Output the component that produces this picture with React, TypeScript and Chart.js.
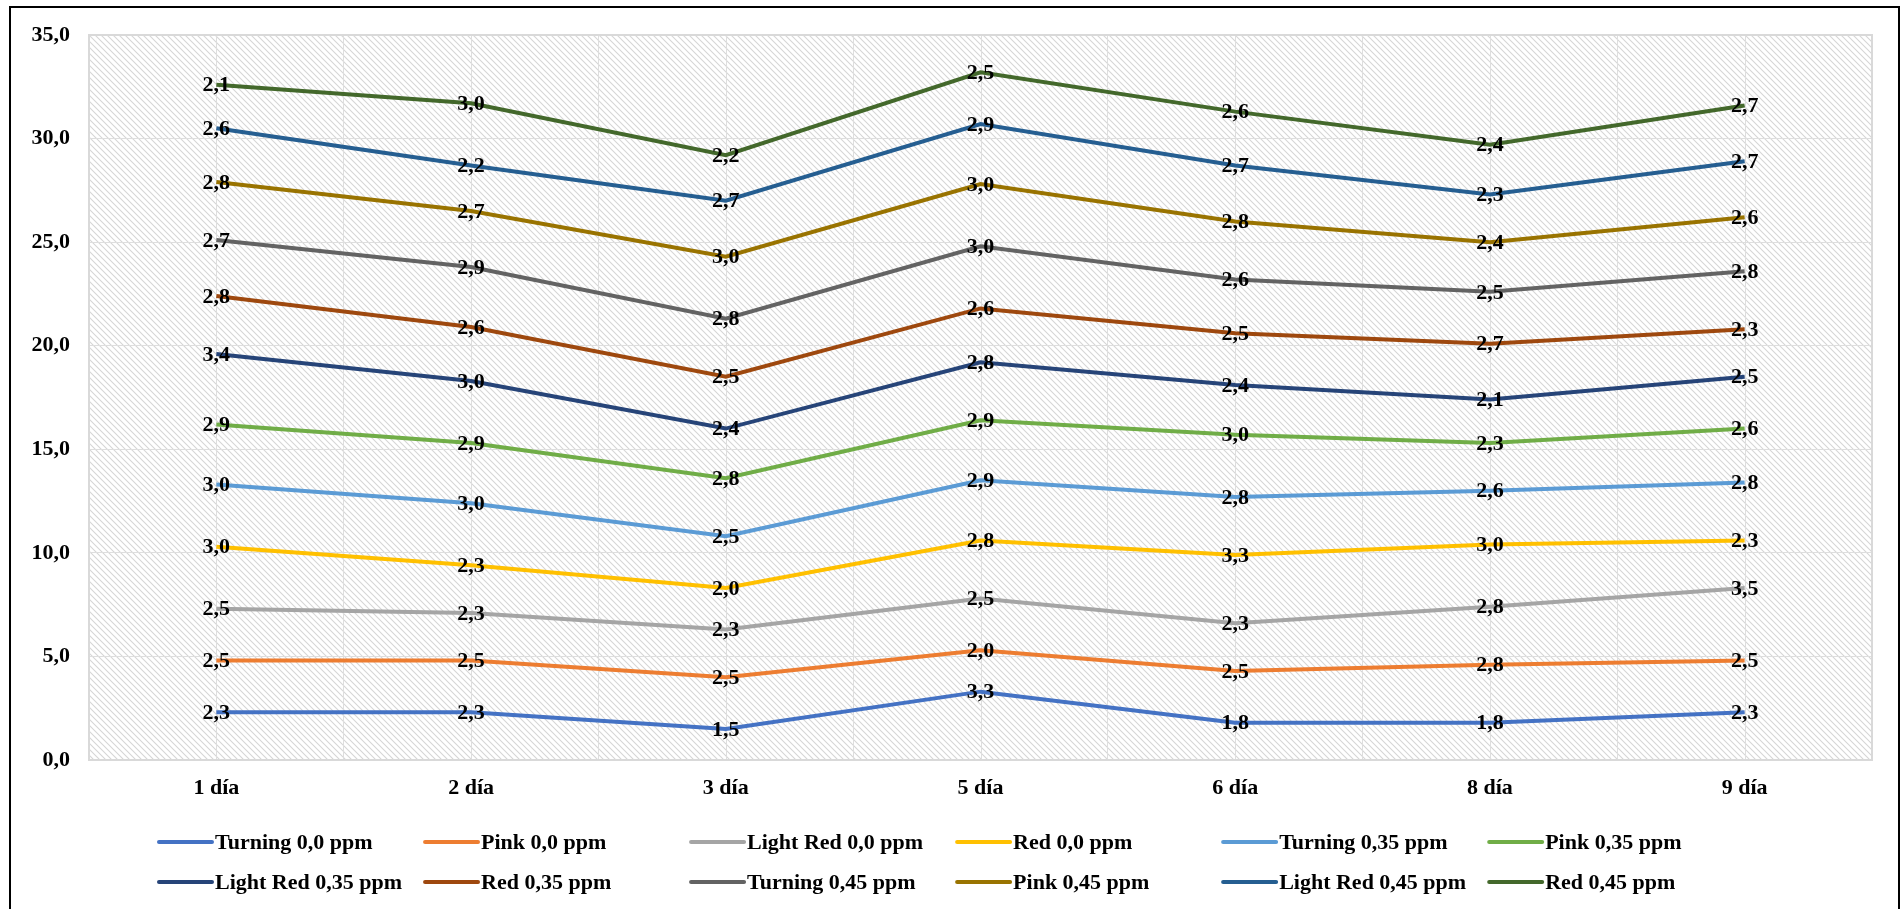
import { useEffect, useRef } from "react";
import { Chart, registerables } from "chart.js";

Chart.register(...registerables);

// Sampling days
const days = ["1 día", "2 día", "3 día", "5 día", "6 día", "8 día", "9 día"];

// Values per maturity stage and concentration (stacked in the chart)
const turning00 = [2.3, 2.3, 1.5, 3.3, 1.8, 1.8, 2.3];
const pink00 = [2.5, 2.5, 2.5, 2.0, 2.5, 2.8, 2.5];
const lightRed00 = [2.5, 2.3, 2.3, 2.5, 2.3, 2.8, 3.5];
const red00 = [3.0, 2.3, 2.0, 2.8, 3.3, 3.0, 2.3];
const turning035 = [3.0, 3.0, 2.5, 2.9, 2.8, 2.6, 2.8];
const pink035 = [2.9, 2.9, 2.8, 2.9, 3.0, 2.3, 2.6];
const lightRed035 = [3.4, 3.0, 2.4, 2.8, 2.4, 2.1, 2.5];
const red035 = [2.8, 2.6, 2.5, 2.6, 2.5, 2.7, 2.3];
const turning045 = [2.7, 2.9, 2.8, 3.0, 2.6, 2.5, 2.8];
const pink045 = [2.8, 2.7, 3.0, 3.0, 2.8, 2.4, 2.6];
const lightRed045 = [2.6, 2.2, 2.7, 2.9, 2.7, 2.3, 2.7];
const red045 = [2.1, 3.0, 2.2, 2.5, 2.6, 2.4, 2.7];

const seriesNames = [
  "Turning 0,0 ppm",
  "Pink 0,0 ppm",
  "Light Red 0,0 ppm",
  "Red 0,0 ppm",
  "Turning 0,35 ppm",
  "Pink 0,35 ppm",
  "Light Red 0,35 ppm",
  "Red 0,35 ppm",
  "Turning 0,45 ppm",
  "Pink 0,45 ppm",
  "Light Red 0,45 ppm",
  "Red 0,45 ppm",
];

const seriesValues = [
  turning00, pink00, lightRed00, red00,
  turning035, pink035, lightRed035, red035,
  turning045, pink045, lightRed045, red045,
];

const seriesColors = [
  "#4472C4", "#ED7D31", "#A5A5A5", "#FFC000",
  "#5B9BD5", "#70AD47", "#264478", "#9E480E",
  "#636363", "#997300", "#255E91", "#43682B",
];

const yTicks = { min: 0, max: 35, step: 5 };

const FONT = '"Liberation Serif", "Times New Roman", serif';
const FONT_SIZE = 22;
const fmt = (v: number) => v.toFixed(1).replace(".", ",");

function makeHatch(): CanvasPattern | string {
  const s = 6;
  const tile = document.createElement("canvas");
  tile.width = s;
  tile.height = s;
  const c = tile.getContext("2d");
  if (!c) return "#ffffff";
  c.fillStyle = "#ffffff";
  c.fillRect(0, 0, s, s);
  c.strokeStyle = "#d6d6d6";
  c.lineWidth = 1.1;
  c.beginPath();
  c.moveTo(-1, -1);
  c.lineTo(s + 1, s + 1);
  c.moveTo(s - 1, -1);
  c.lineTo(s + 1, 1);
  c.moveTo(-1, s - 1);
  c.lineTo(1, s + 1);
  c.stroke();
  const p = c.createPattern(tile, "repeat");
  return p || "#ffffff";
}

const plotBackground = {
  id: "plotBackground",
  beforeDraw(chart: any) {
    const { ctx, chartArea: a } = chart;
    ctx.save();
    ctx.fillStyle = makeHatch();
    ctx.fillRect(a.left, a.top, a.right - a.left, a.bottom - a.top);
    ctx.restore();
  },
  beforeDatasetsDraw(chart: any) {
    const { ctx, chartArea: a } = chart;
    const x = chart.scales.x;
    ctx.save();
    ctx.strokeStyle = "#dedede";
    ctx.lineWidth = 1;
    // gridlines through each category centre
    for (let i = 0; i < days.length; i++) {
      const px = Math.round(x.getPixelForValue(i)) + 0.5;
      ctx.beginPath();
      ctx.moveTo(px, a.top);
      ctx.lineTo(px, a.bottom);
      ctx.stroke();
    }
    // plot-area outline
    ctx.strokeStyle = "#d9d9d9";
    ctx.lineWidth = 2;
    ctx.strokeRect(a.left, a.top, a.right - a.left, a.bottom - a.top);
    ctx.restore();
  },
};

const valueLabels = {
  id: "valueLabels",
  afterDatasetsDraw(chart: any) {
    const { ctx } = chart;
    ctx.save();
    ctx.font = `bold ${FONT_SIZE}px ${FONT}`;
    ctx.fillStyle = "#000000";
    ctx.textAlign = "center";
    ctx.textBaseline = "middle";
    chart.data.datasets.forEach((ds: any, di: number) => {
      const meta = chart.getDatasetMeta(di);
      meta.data.forEach((pt: any, i: number) => {
        ctx.fillText(fmt(ds.data[i]), pt.x, pt.y + 1);
      });
    });
    ctx.restore();
  },
};

const gridLegend = {
  id: "gridLegend",
  afterDraw(chart: any) {
    const { ctx, chartArea: a } = chart;
    const cols = 6;
    const lineLen = 53;
    ctx.save();
    ctx.font = `bold ${FONT_SIZE}px ${FONT}`;
    let maxW = 0;
    chart.data.datasets.forEach((ds: any) => {
      maxW = Math.max(maxW, ctx.measureText(ds.label).width);
    });
    const colW = lineLen + 4 + maxW + 22;
    const startX = a.left + 70;
    const rowY = [a.bottom + 82, a.bottom + 122];
    ctx.textAlign = "left";
    ctx.textBaseline = "middle";
    chart.data.datasets.forEach((ds: any, i: number) => {
      const col = i % cols;
      const row = Math.floor(i / cols);
      const x = startX + col * colW;
      const y = rowY[row];
      ctx.strokeStyle = ds.borderColor;
      ctx.lineWidth = 4;
      ctx.lineCap = "round";
      ctx.beginPath();
      ctx.moveTo(x, y);
      ctx.lineTo(x + lineLen, y);
      ctx.stroke();
      ctx.fillStyle = "#000000";
      ctx.fillText(ds.label, x + lineLen + 3, y + 1);
    });
    ctx.restore();
  },
};

export default function App() {
  const canvasRef = useRef<HTMLCanvasElement | null>(null);

  useEffect(() => {
    if (!canvasRef.current) return;
    const chart = new Chart(canvasRef.current, {
      type: "line",
      data: {
        labels: days,
        datasets: seriesNames.map((name, i) => ({
          label: name,
          data: seriesValues[i],
          borderColor: seriesColors[i],
          backgroundColor: seriesColors[i],
          borderWidth: 4,
          pointRadius: 0,
          pointHoverRadius: 0,
          fill: false,
          tension: 0,
        })),
      },
      options: {
        animation: false,
        responsive: false,
        layout: { padding: { top: 35, right: 31, left: 0, bottom: 0 } },
        plugins: {
          legend: { display: false },
          tooltip: { enabled: false },
        },
        scales: {
          x: {
            offset: true,
            grid: { offset: true, color: "#dedede", drawTicks: false },
            border: { display: false },
            ticks: {
              color: "#000000",
              font: { family: FONT, size: FONT_SIZE, weight: "bold" },
              padding: 15,
            },
            afterFit(scale: any) {
              scale.height = 149;
            },
          },
          y: {
            stacked: true,
            min: yTicks.min,
            max: yTicks.max,
            grid: { color: "#dedede", drawTicks: false },
            border: { display: false },
            ticks: {
              stepSize: yTicks.step,
              color: "#000000",
              font: { family: FONT, size: FONT_SIZE, weight: "bold" },
              padding: 19,
              callback: (v: any) => fmt(Number(v)),
            },
            afterFit(scale: any) {
              scale.width = 89;
            },
          },
        },
      },
      plugins: [plotBackground, valueLabels, gridLegend],
    });
    return () => chart.destroy();
  }, []);

  return (
    <div
      style={{
        position: "fixed",
        left: 0,
        top: 0,
        width: 1903,
        height: 909,
        overflow: "hidden",
        background: "#ffffff",
      }}
    >
      <canvas
        ref={canvasRef}
        width={1903}
        height={909}
        style={{ position: "absolute", left: 0, top: 0 }}
      />
      <div
        style={{
          position: "absolute",
          left: 9,
          top: 6,
          width: 1891,
          height: 940,
          border: "2px solid #000000",
          boxSizing: "border-box",
          pointerEvents: "none",
        }}
      />
    </div>
  );
}
